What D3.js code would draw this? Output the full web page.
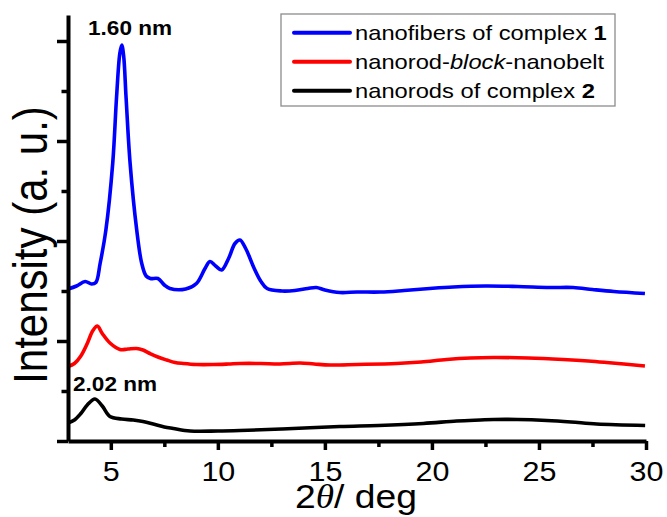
<!DOCTYPE html>
<html>
<head>
<meta charset="utf-8">
<script src="https://cdn.jsdelivr.net/npm/d3@7"></script>
<style>
  body { margin: 0; background: #fff; }
  svg { display: block; }
  text { font-family: "Liberation Sans", Arial, sans-serif; fill: #000; }
</style>
</head>
<body>
<svg id="chart" width="667" height="517"></svg>
<script>
// values: [2theta, intensity in tick units]
const blue = [
  [3.0, 3.04], [3.4, 3.10], [3.8, 3.19], [4.1, 3.14], [4.3, 3.17], [4.5, 3.55],
  [4.77, 4.22], [5.09, 5.56], [5.27, 6.89], [5.42, 7.75], [5.51, 7.92], [5.6, 7.7],
  [5.71, 6.89], [5.9, 5.56], [6.21, 4.22], [6.44, 3.56], [6.65, 3.3], [6.85, 3.25],
  [7.2, 3.25], [7.5, 3.12], [7.76, 3.05], [8.5, 3.04], [9.0, 3.15], [9.4, 3.45],
  [9.63, 3.59], [9.9, 3.5], [10.18, 3.42], [10.5, 3.65], [10.8, 3.95], [11.03, 4.02],
  [11.3, 3.85], [11.7, 3.45], [12.0, 3.2], [12.3, 3.05], [13.0, 3.0], [13.6, 3.01],
  [14.2, 3.05], [14.6, 3.07], [15.0, 3.02], [15.7, 2.97], [16.5, 2.98], [17.6, 2.98],
  [18.7, 3.01], [19.9, 3.05], [21.0, 3.08], [22.5, 3.1], [24.0, 3.09], [25.5, 3.07],
  [26.6, 3.07], [27.5, 3.03], [28.5, 2.99], [29.95, 2.95]
]
const red = [
  [3.0, 1.49], [3.3, 1.55], [3.6, 1.7], [3.9, 1.95], [4.15, 2.2], [4.37, 2.3],
  [4.6, 2.15], [4.96, 1.96], [5.43, 1.83], [5.8, 1.84], [6.2, 1.85], [6.5, 1.82],
  [6.83, 1.75], [7.2, 1.68], [7.61, 1.62], [8.0, 1.57], [8.39, 1.55], [9.0, 1.53],
  [9.79, 1.53], [10.5, 1.54], [11.03, 1.55], [12.0, 1.55], [12.9, 1.54], [13.84, 1.56],
  [14.5, 1.54], [15.24, 1.52], [16.5, 1.53], [18.35, 1.55], [19.5, 1.58], [20.69, 1.63],
  [21.8, 1.66], [22.87, 1.67], [24.5, 1.66], [26.13, 1.63], [27.3, 1.6], [28.16, 1.57],
  [29.95, 1.5]
]
const black = [
  [3.0, 0.36], [3.3, 0.42], [3.6, 0.55], [3.9, 0.72], [4.26, 0.84], [4.6, 0.7],
  [4.96, 0.49], [5.5, 0.44], [6.05, 0.42], [6.5, 0.39], [6.98, 0.34], [7.5, 0.28],
  [7.92, 0.25], [8.7, 0.2], [10.0, 0.2], [11.03, 0.21], [13.0, 0.24], [15.7, 0.29],
  [17.5, 0.31], [19.6, 0.35], [21.16, 0.4], [22.26, 0.42], [22.88, 0.43], [24.0, 0.43],
  [25.37, 0.41], [26.5, 0.38], [27.7, 0.34], [29.96, 0.31]
]

const xMajor = [5, 10, 15, 20, 25, 30]
const xMinor = [7.5, 12.5, 17.5, 22.5, 27.5]
const yMajor = [0, 2, 4, 6, 8]
const yMinor = [1, 3, 5, 7]

const series = [
  { data: blue, color: '#0000ff' },
  { data: red, color: '#ff0000' },
  { data: black, color: '#000000' }
]

const stretch = 1.13 // the picture is a bit wider than tall

const svg = d3.select('#chart')
const x = d3.scaleLinear().domain([3, 30]).range([68, 646])
const y = d3.scaleLinear().domain([0, 8.52]).range([441, 15])

// curves
const line = d3.line()
  .x(d => x(d[0]))
  .y(d => y(d[1]))
  .curve(d3.curveCatmullRom)

svg.selectAll('.curve')
  .data(series)
  .enter()
  .append('path')
  .attr('class', 'curve')
  .attr('d', d => line(d.data))
  .attr('fill', 'none')
  .attr('stroke', d => d.color)
  .attr('stroke-width', 3.6)
  .attr('stroke-linejoin', 'round')

// axes
function styleAxis(g) {
  g.selectAll('path.domain').attr('stroke', '#000').attr('stroke-width', 4)
  g.selectAll('.tick line').attr('stroke', '#000').attr('stroke-width', 3.5)
}

svg.append('g')
  .attr('transform', 'translate(0,441)')
  .call(d3.axisBottom(x).tickValues(xMinor).tickSize(6).tickSizeOuter(0).tickFormat(''))
  .call(styleAxis)
  .call(g => g.select('path.domain').remove())

const xAxis = svg.append('g')
  .attr('transform', 'translate(0,441)')
  .call(d3.axisBottom(x).tickValues(xMajor).tickSize(9).tickSizeOuter(0).tickFormat(''))
  .call(styleAxis)

xAxis.selectAll('.tick')
  .append('text')
  .attr('transform', 'translate(0,40) scale(' + stretch + ',1)')
  .attr('text-anchor', 'middle')
  .style('font-size', '27px')
  .text(d => d)

svg.append('g')
  .attr('transform', 'translate(68,0)')
  .call(d3.axisLeft(y).tickValues(yMinor).tickSize(6.5).tickSizeOuter(0).tickFormat(''))
  .call(styleAxis)
  .call(g => g.select('path.domain').remove())

svg.append('g')
  .attr('transform', 'translate(68,0)')
  .call(d3.axisLeft(y).tickValues(yMajor).tickSize(11).tickSizeOuter(0).tickFormat(''))
  .call(styleAxis)

// axis titles
const xTitle = svg.append('text')
  .attr('transform', 'translate(356,508) scale(' + stretch + ',1)')
  .attr('text-anchor', 'middle')
  .style('font-size', '33px')
xTitle.append('tspan').text('2')
xTitle.append('tspan')
  .style('font-family', '"Liberation Serif", serif')
  .style('font-style', 'italic')
  .text('θ')
xTitle.append('tspan').text('/ deg')

svg.append('text')
  .attr('transform', 'translate(47,245) rotate(-90) scale(1,' + stretch + ')')
  .attr('text-anchor', 'middle')
  .style('font-size', '42px')
  .text('Intensity (a. u.)')

// peak labels
svg.append('text')
  .attr('transform', 'translate(88,35) scale(' + stretch + ',1)')
  .style('font-size', '20px')
  .style('font-weight', 'bold')
  .text('1.60 nm')

svg.append('text')
  .attr('transform', 'translate(73,391) scale(' + stretch + ',1)')
  .style('font-size', '20px')
  .style('font-weight', 'bold')
  .text('2.02 nm')

// legend
const legend = svg.append('g')
legend.append('rect')
  .attr('x', 281).attr('y', 14)
  .attr('width', 334).attr('height', 92)
  .attr('fill', '#fff')
  .attr('stroke', '#8c8c8c')
  .attr('stroke-width', 1.3)

const legendItems = [
  [{ t: 'nanofibers of complex ' }, { t: '1', b: true }],
  [{ t: 'nanorod-' }, { t: 'block', i: true }, { t: '-nanobelt' }],
  [{ t: 'nanorods of complex ' }, { t: '2', b: true }]
]

legendItems.forEach((parts, k) => {
  const cy = 32.7 + k * 29
  legend.append('line')
    .attr('x1', 294).attr('x2', 350)
    .attr('y1', cy).attr('y2', cy)
    .attr('stroke', series[k].color)
    .attr('stroke-width', 4)
    .attr('stroke-linecap', 'round')
  const t = legend.append('text')
    .attr('transform', 'translate(355,' + (cy + 7.5) + ') scale(' + stretch + ',1)')
    .style('font-size', '21px')
  parts.forEach(p => {
    t.append('tspan')
      .style('font-weight', p.b ? 'bold' : null)
      .style('font-style', p.i ? 'italic' : null)
      .text(p.t)
  })
})
</script>
</body>
</html>
